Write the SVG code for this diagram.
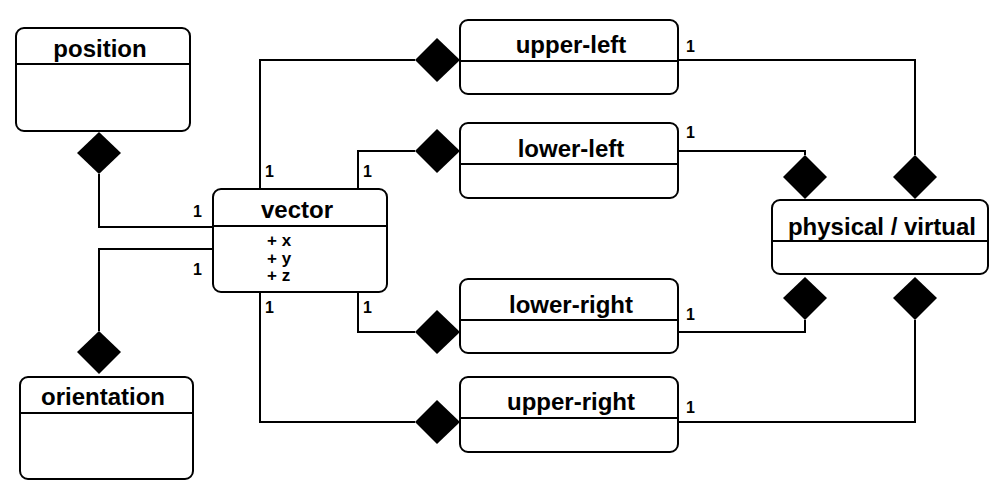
<svg xmlns="http://www.w3.org/2000/svg" width="1000" height="500" viewBox="0 0 1000 500">
<style>
.box{fill:#fff;stroke:#000;stroke-width:2}
.div{stroke:#000;stroke-width:2}
.title{font-family:"Liberation Sans",Arial,sans-serif;font-weight:bold;font-size:24px;text-anchor:middle;fill:#000}
.attr{font-family:"Liberation Sans",Arial,sans-serif;font-weight:bold;font-size:17px;fill:#000}
.mul{font-family:"Liberation Sans",Arial,sans-serif;font-weight:bold;font-size:16px;fill:#000}
.line{fill:none;stroke:#000;stroke-width:2}
.dia{fill:#000;stroke:none}
</style>
<rect width="1000" height="500" fill="#fff"/>
<g id="connectors">
<polyline class="line" points="99,174 99,227 213,227"/>
<polyline class="line" points="213,249 99,249 99,331"/>
<polyline class="line" points="260,189 260,60 415,60"/>
<polyline class="line" points="358,189 358,151 415,151"/>
<polyline class="line" points="358,292 358,332 415,332"/>
<polyline class="line" points="260,292 260,422 415,422"/>
<polyline class="line" points="678,60 915,60 915,155"/>
<polyline class="line" points="678,151 805,151 805,155"/>
<polyline class="line" points="678,332 805,332 805,320"/>
<polyline class="line" points="678,422 915,422 915,320"/>
<polygon class="dia" points="99,132 121,153 99,174 77,153"/>
<polygon class="dia" points="99,331 121,352 99,374 77,352"/>
<polygon class="dia" points="437,38 460,60 437,82 415,60"/>
<polygon class="dia" points="437,129 460,151 437,173 415,151"/>
<polygon class="dia" points="437,310 460,332 437,354 415,332"/>
<polygon class="dia" points="437,400 460,422 437,444 415,422"/>
<polygon class="dia" points="805,155 827,177 805,199 783,177"/>
<polygon class="dia" points="915,155 937,177 915,199 893,177"/>
<polygon class="dia" points="805,277 827,298 805,320 783,298"/>
<polygon class="dia" points="915,277 937,298 915,320 893,298"/>
<text class="mul" x="193" y="217">1</text>
<text class="mul" x="193" y="275">1</text>
<text class="mul" x="265" y="177">1</text>
<text class="mul" x="363" y="177">1</text>
<text class="mul" x="265" y="313">1</text>
<text class="mul" x="363" y="313">1</text>
<text class="mul" x="686" y="52">1</text>
<text class="mul" x="686" y="138">1</text>
<text class="mul" x="686" y="320">1</text>
<text class="mul" x="686" y="413">1</text>
</g>
<g id="position">
<rect class="box" x="16" y="28" width="174" height="103" rx="8"/>
<line class="div" x1="16" y1="64" x2="190" y2="64"/>
<text class="title" x="100" y="57">position</text>
</g>
<g id="orientation">
<rect class="box" x="20" y="377" width="173" height="102" rx="8"/>
<line class="div" x1="20" y1="413" x2="193" y2="413"/>
<text class="title" x="103" y="405">orientation</text>
</g>
<g id="vector">
<rect class="box" x="213" y="189" width="174" height="103" rx="8"/>
<line class="div" x1="213" y1="226" x2="387" y2="226"/>
<text class="title" x="297" y="218">vector</text>
<text class="attr" x="267" y="246">+ x</text>
<text class="attr" x="267" y="264">+ y</text>
<text class="attr" x="267" y="281">+ z</text>
</g>
<g id="upper-left">
<rect class="box" x="460" y="20" width="218" height="74" rx="8"/>
<line class="div" x1="460" y1="61" x2="678" y2="61"/>
<text class="title" x="571" y="53">upper-left</text>
</g>
<g id="lower-left">
<rect class="box" x="460" y="123" width="218" height="75" rx="8"/>
<line class="div" x1="460" y1="164" x2="678" y2="164"/>
<text class="title" x="571" y="157">lower-left</text>
</g>
<g id="lower-right">
<rect class="box" x="460" y="279" width="218" height="74" rx="8"/>
<line class="div" x1="460" y1="320" x2="678" y2="320"/>
<text class="title" x="571" y="313">lower-right</text>
</g>
<g id="upper-right">
<rect class="box" x="460" y="377" width="218" height="75" rx="8"/>
<line class="div" x1="460" y1="418" x2="678" y2="418"/>
<text class="title" x="571" y="410">upper-right</text>
</g>
<g id="physical-virtual">
<rect class="box" x="772" y="200" width="216" height="74" rx="8"/>
<line class="div" x1="772" y1="241" x2="988" y2="241"/>
<text class="title" x="882" y="235">physical / virtual</text>
</g>
</svg>
